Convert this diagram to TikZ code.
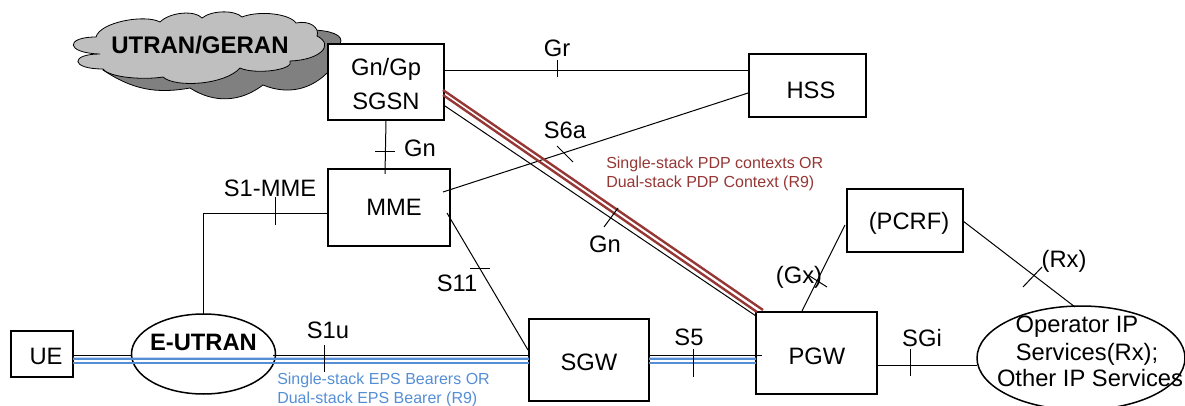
\documentclass[tikz,border=0pt]{standalone}
\usepackage{fontspec}
\setmainfont{Liberation Sans}
\usetikzlibrary{calc,shapes.geometric}
\newlength\pxu \pxu=.75pt
% text placed inside a node: #1 = twice the x offset, #2 = baseline offset below centre (px)
\newcommand\boxt[3]{\raisebox{\dimexpr-#2\pxu\relax}[0pt][0pt]{\makebox[0pt]{\hspace*{#1\pxu}#3}}}
\definecolor{bearerred}{HTML}{953735}
\definecolor{bearerblue}{HTML}{558ED5}
\definecolor{cloudfront}{HTML}{BFBFBF}
\definecolor{cloudback}{HTML}{808080}
\tikzset{
  x=.75pt,y=-.75pt,
  boxbase/.style={draw=black,fill=white,rectangle,inner sep=0pt,outer sep=0pt,font=\fontsize{17.8}{20}\selectfont},
  thinbox/.style={boxbase,line width=1.5\pxu},
  thickbox/.style={boxbase,line width=2.3\pxu},
  oval/.style={ellipse,draw=black,line width=1.5\pxu,inner sep=0pt,outer sep=0pt,font=\fontsize{17.8}{20}\selectfont},
  lab/.style={inner sep=0pt,font=\fontsize{17.8}{20}\selectfont},
  boldlab/.style={inner sep=0pt,font=\fontsize{18}{20}\selectfont\bfseries},
  smalltext/.style={inner sep=0pt,anchor=base west,font=\fontsize{12}{14}\selectfont},
  conn/.style={draw=black,line width=1\pxu},
  tickline/.style={draw=black,line width=1\pxu},
  redline/.style={draw=bearerred,line width=2.4\pxu},
  blueline/.style={draw=bearerblue,line width=2.4\pxu},
  cloudline/.style={draw=black,line width=.8\pxu},
}
\newcommand\tk[3]{\coordinate (#1a) at (#2); \coordinate (#1b) at (#3); \draw[tickline] (#1a) -- (#1b);}
\begin{document}
\begin{tikzpicture}
\useasboundingbox (0,0) rectangle (1185,406);
% clouds
\path[cloudline,fill=cloudback] (310,30) .. controls (330,30) and (345,35) .. (340,44)
  .. controls (345,55) and (340,68) .. (330,70)
  to[bend left=35] (263,85) to[bend left=35] (190,88) to[bend left=22] (103,70) -- cycle;
\path[cloudline,fill=cloudfront] (96,37) .. controls (100,22) and (145,14) .. (160,22)
  .. controls (170,12) and (195,10) .. (202,18)
  .. controls (212,10) and (235,10) .. (242,17)
  .. controls (260,10) and (290,14) .. (296,23)
  .. controls (310,20) and (320,28) .. (317,36)
  .. controls (335,45) and (320,60) .. (290,61)
  .. controls (295,70) and (255,75) .. (240,68)
  .. controls (225,85) and (175,88) .. (163,77)
  .. controls (145,80) and (110,78) .. (103,69)
  .. controls (70,69) and (70,54) .. (100,54)
  .. controls (65,53) and (65,37) .. (96,37) -- cycle;
% nodes
\node[thickbox,minimum width=116\pxu,minimum height=76\pxu] (sgsn) at (386,82) {\boxt{0}{-6}{Gn/Gp}\boxt{0}{28}{SGSN}};
\node[thinbox,minimum width=117\pxu,minimum height=63\pxu] (hss) at (807.5,85.5) {\boxt{7}{13.5}{HSS}};
\node[thinbox,minimum width=122\pxu,minimum height=77\pxu] (mme) at (389,207.5) {\boxt{10}{8}{MME}};
\node[thinbox,minimum width=116\pxu,minimum height=63\pxu] (pcrf) at (905,220.5) {\boxt{8}{9.5}{(PCRF)}};
\node[thickbox,minimum width=62\pxu,minimum height=46\pxu] (ue) at (42,354) {\boxt{8}{10}{UE}};
\node[thickbox,minimum width=120\pxu,minimum height=82\pxu] (sgw) at (589,360) {\boxt{0}{10}{SGW}};
\node[thickbox,minimum width=121\pxu,minimum height=82\pxu] (pgw) at (816.5,353) {\boxt{1}{11}{PGW}};
\node[oval,minimum width=144\pxu,minimum height=80\pxu] (eutran) at (203.5,354) {\boxt{0}{-3.5}{\bfseries E-UTRAN}};
\node[oval,minimum width=208\pxu,minimum height=104\pxu] (ops) at (1081,358) {\boxt{-8}{-26}{Operator IP}\boxt{12}{2}{Services(Rx);}\boxt{18}{28}{Other IP Services}};
% connectors
\draw[conn] ($(sgsn.east)+(0,-11.5)$) -- ($(hss.west)+(0,-15)$);
\draw[conn] ($(sgsn.south)+(0,0)$) -- ($(mme.north)+(-4,5)$);
\draw[conn] ($(mme.east)+(-7,-15.5)$) -- ($(hss.west)+(0,7.2)$);
\draw[conn] ($(mme.east)+(-3,5.5)$) -- ($(sgw.west)+(-1,-10)$);
\draw[conn] ($(mme.west)+(0,6)$) -| (eutran.north);
\draw[conn] ($(sgsn.east)+(1,24)$) -- ($(pgw.west)+(0,-37)$);
\draw[redline] ($(sgsn.east)+(-1,8)$) -- ($(pgw.north west)+(7,-2)$);
\draw[redline] ($(sgsn.east)+(-1,13)$) -- ($(pgw.north west)+(1,0)$);
\draw[conn] (ue.east |- 0,355.5) -- (eutran.west |- 0,355.5);
\draw[conn] (273,355.5) -- (sgw.west |- 0,355.5);
\draw[conn] (sgw.east |- 0,355.5) -- ($(pgw.west)+(6,2.5)$);
\draw[conn] ($(pgw.east)+(0,12.5)$) -- (ops.west |- 0,365.5);
\draw[conn] ($(pcrf.west)+(-2,4.5)$) -- ($(pgw.north)+(-14.5,-1)$);
\draw[conn] ($(pcrf.east)+(0,.5)$) -- ($(ops.north)+(-6,1)$);
\draw[blueline] ($(ue.east)+(0,4.7)$) -- ($(sgw.west)+(0,-1.3)$);
\draw[blueline] ($(ue.east)+(0,9)$) -- ($(sgw.west)+(0,3)$);
\draw[blueline] ($(sgw.east)+(0,-1.3)$) -- ($(pgw.west)+(0,5.7)$);
\draw[blueline] ($(sgw.east)+(0,3)$) -- ($(pgw.west)+(0,10)$);
% ticks
\tk{t1}{557.5,60}{557.5,77}
\tk{t2}{375,151.5}{395,151.5}
\tk{t3}{557,146}{573,162}
\tk{t4}{604,227}{618,208}
\tk{t5}{275.5,197}{275.5,225}
\tk{t6}{470,268.5}{490,268.5}
\tk{t7}{324.5,345}{324.5,372}
\tk{t8}{693.5,349}{693.5,377}
\tk{t9}{910.5,349}{910.5,376}
\tk{t10}{808,275}{827,287}
\tk{t11}{1023,287}{1042,267}
% labels
\node[lab] (lgr) at (557,48) {Gr};
\node[lab] (ls6a) at (565,130) {S6a};
\node[lab] (lgn1) at (420,148) {Gn};
\node[lab] (lgn2) at (605,244) {Gn};
\node[lab] (ls1mme) at (270,188) {S1-MME};
\node[lab] (ls11) at (457,283) {S11};
\node[lab] (ls1u) at (328,330) {S1u};
\node[lab] (ls5) at (689,337) {S5};
\node[lab] (lsgi) at (922,338) {SGi};
\node[lab] (lgx) at (799,277) {(Gx)};
\node[lab] (lrx) at (1064,261) {(Rx)};
\node[boldlab] (lcloud) at (200,45) {UTRAN/GERAN};
\node[smalltext,text=bearerred] (lred1) at (606,169) {Single-stack PDP contexts OR};
\node[smalltext,text=bearerred] (lred2) at (606,188) {Dual-stack PDP Context (R9)};
\node[smalltext,text=bearerblue] (lblue1) at (277,384) {Single-stack EPS Bearers OR};
\node[smalltext,text=bearerblue] (lblue2) at (277,403) {Dual-stack EPS Bearer (R9)};
\end{tikzpicture}
\end{document}
